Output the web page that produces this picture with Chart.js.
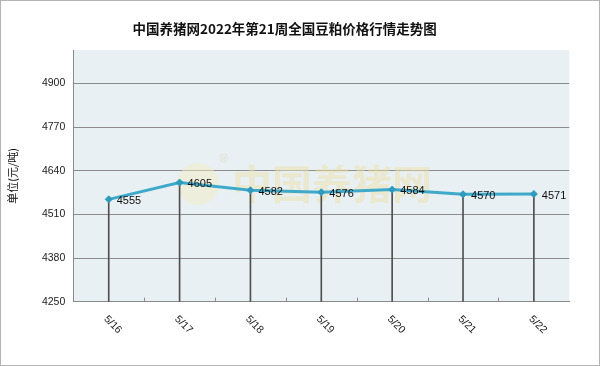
<!DOCTYPE html>
<html><head><meta charset="utf-8">
<script src="https://cdn.jsdelivr.net/npm/chart.js@4/dist/chart.umd.min.js"></script>
<style>html,body{margin:0;padding:0;background:#fff;} canvas{display:block}</style>
</head><body>
<canvas id="c" width="600" height="366"></canvas>
<script>
const categories = ['5/16','5/17','5/18','5/19','5/20','5/21','5/22'];
const prices = [4555, 4605, 4582, 4576, 4584, 4570, 4571];
const yTicks = [4250, 4380, 4510, 4640, 4770, 4900];
const yMin = 4250, yMax = 5000;
const titleText = '中国养猪网2022年第21周全国豆粕价格行情走势图';
const yTitle = '单位(元/吨)';
const watermark = '中国养猪网';

const numFont = '"Liberation Sans", Arial, sans-serif';

const framePlugin = {
  id: 'frame',
  beforeDraw(chart) {
    const {ctx, chartArea: a} = chart;
    ctx.save();
    ctx.fillStyle = '#ffffff';
    ctx.fillRect(0, 0, chart.width, chart.height);
    ctx.strokeStyle = '#b4b4b4';
    ctx.lineWidth = 1;
    ctx.strokeRect(0.5, 0.5, chart.width - 1, chart.height - 1);
    ctx.fillStyle = '#e9f0f4';
    ctx.fillRect(a.left, a.top, a.right - a.left, a.bottom - a.top);
    ctx.restore();
  },
  beforeDatasetsDraw(chart) {
    const {ctx, chartArea: a} = chart;
    ctx.save();
    ctx.beginPath();
    ctx.rect(a.left, a.top, a.right - a.left, a.bottom - a.top);
    ctx.clip();
    ctx.globalAlpha = 0.5;
    ctx.fillStyle = '#f3ecc4';
    ctx.beginPath();
    ctx.arc(198, 184, 21, 0, Math.PI * 2);
    ctx.fill();
    ctx.font = 'bold 40px "Noto Sans CJK SC"';
    ctx.textBaseline = 'middle';
    ctx.textAlign = 'left';
    ctx.fillStyle = '#ebe0aa';
    ctx.fillText(watermark, 232, 184);
    ctx.font = '12px "Liberation Sans"';
    ctx.fillStyle = '#d8d0a8';
    ctx.fillText('®', 219, 160);
    ctx.restore();
  },
  afterDatasetsDraw(chart) {
    const {ctx} = chart;
    const meta = chart.getDatasetMeta(0);
    ctx.save();
    ctx.font = '11px ' + numFont;
    ctx.fillStyle = '#111';
    ctx.textAlign = 'left';
    ctx.textBaseline = 'middle';
    meta.data.forEach((pt, i) => {
      ctx.fillText(String(prices[i]), pt.x + 8, pt.y + 1.5);
    });
    const xs = chart.scales.x;
    const a = chart.chartArea;
    ctx.strokeStyle = '#8a8a8a';
    ctx.lineWidth = 1;
    for (let i = 0; i < categories.length - 1; i++) {
      const x = Math.round(xs.getPixelForValue(i + 0.5)) + 0.5;
      ctx.beginPath();
      ctx.moveTo(x, a.bottom);
      ctx.lineTo(x, a.bottom - 4);
      ctx.stroke();
    }
    ctx.restore();
  },
  afterDraw(chart) {
    const {ctx} = chart;
    const xs = chart.scales.x;
    ctx.save();
    ctx.font = '10.5px ' + numFont;
    ctx.fillStyle = '#222';
    ctx.textAlign = 'center';
    ctx.textBaseline = 'middle';
    categories.forEach((c, i) => {
      const x = xs.getPixelForValue(i) + 4;
      const y = chart.chartArea.bottom + 23;
      ctx.save();
      ctx.translate(x, y);
      ctx.rotate(Math.PI / 4);
      ctx.fillText(c, 0, 0);
      ctx.restore();
    });
    ctx.restore();
  }
};

new Chart(document.getElementById('c'), {
  data: {
    labels: categories,
    datasets: [
      {
        type: 'line',
        data: prices,
        order: 0,
        borderColor: '#3fa9ca',
        borderWidth: 3,
        tension: 0,
        pointStyle: 'rectRot',
        pointRadius: 3.5,
        pointBackgroundColor: '#2f9bbf',
        pointBorderColor: '#2f9bbf',
        pointBorderWidth: 1
      },
      {
        type: 'bar',
        data: prices,
        order: 1,
        backgroundColor: '#505050',
        barThickness: 1
      }
    ]
  },
  options: {
    responsive: false,
    animation: false,
    devicePixelRatio: 1,
    layout: { padding: { left: 0, right: 30.7, top: 0, bottom: 0 } },
    plugins: {
      legend: { display: false },
      tooltip: { enabled: false },
      title: {
        display: true,
        text: titleText,
        color: '#111',
        font: { family: '"Noto Sans CJK SC"', size: 13.5, weight: 'bold', lineHeight: 1.2 },
        padding: { top: 20.6, bottom: 13.2 }
      }
    },
    scales: {
      x: {
        type: 'category',
        offset: true,
        grid: { display: false },
        border: { display: true, color: '#8a8a8a', width: 1 },
        ticks: { display: false },
        afterFit(scale) { scale.height = 64.3; }
      },
      y: {
        type: 'linear',
        min: yMin,
        max: yMax,
        afterBuildTicks(scale) { scale.ticks = yTicks.map(v => ({ value: v })); },
        grid: { color: '#8c8c8c', lineWidth: 1, drawTicks: false },
        border: { display: true, color: '#8a8a8a', width: 1 },
        ticks: {
          padding: 8,
          color: '#222',
          font: { family: numFont, size: 10.5 },
          callback: v => String(v)
        },
        title: {
          display: true,
          text: yTitle,
          color: '#111',
          font: { family: '"Noto Sans CJK SC"', size: 11, lineHeight: 1.2 },
          padding: { top: 6.4, bottom: 0 }
        },
        afterFit(scale) { scale.width = 73.3; }
      }
    }
  },
  plugins: [framePlugin]
});
</script>
</body></html>
